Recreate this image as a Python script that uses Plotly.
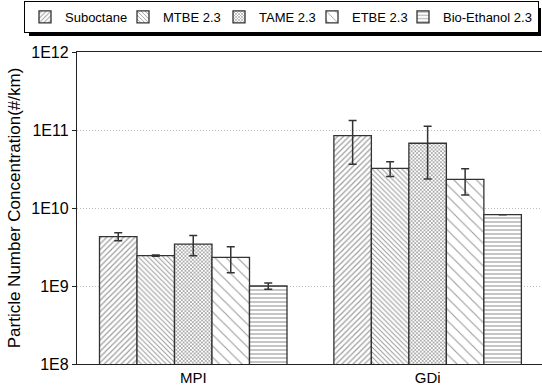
import plotly.graph_objects as go

# Engine types on the x axis
categories = ["MPI", "GDi"]

# Fuels and their particle number concentrations (#/km) per engine type
fuels = ["Suboctane", "MTBE 2.3", "TAME 2.3", "ETBE 2.3", "Bio-Ethanol 2.3"]
pn_mean = {
    "Suboctane":       [4.3e9, 8.45e10],
    "MTBE 2.3":        [2.45e9, 3.23e10],
    "TAME 2.3":        [3.45e9, 6.76e10],
    "ETBE 2.3":        [2.33e9, 2.33e10],
    "Bio-Ethanol 2.3": [1.0e9, 8.2e9],
}
pn_err = {
    "Suboctane":       [0.5e9, 4.8e10],
    "MTBE 2.3":        [0.05e9, 0.7e10],
    "TAME 2.3":        [1.0e9, 4.4e10],
    "ETBE 2.3":        [0.85e9, 0.86e10],
    "Bio-Ethanol 2.3": [0.09e9, None],
}

# Y axis decades and their labels
y_tickvals = [1e8, 1e9, 1e10, 1e11, 1e12]
y_ticktext = ["1E8", "1E9", "1E10", "1E11", "1E12"]

# Hatch style per fuel
hatch = {
    "Suboctane":       dict(shape="/", size=4, solidity=0.3),
    "MTBE 2.3":        dict(shape="\\", size=3.5, solidity=0.3),
    "TAME 2.3":        dict(shape="x", size=2.6, solidity=0.5),
    "ETBE 2.3":        dict(shape="\\", size=8, solidity=0.14),
    "Bio-Ethanol 2.3": dict(shape="-", size=4, solidity=0.3),
}
# Legend entry widths (px) per fuel
legend_w = {
    "Suboctane": 53, "MTBE 2.3": 51, "TAME 2.3": 48,
    "ETBE 2.3": 46, "Bio-Ethanol 2.3": 90,
}

FONT = "Liberation Sans, Arial, sans-serif"
W, H = 542, 385
ML, MR, MT, MB = 77, 0, 52, 21

fig = go.Figure()
for f in fuels:
    fig.add_trace(go.Bar(
        name=f,
        x=categories,
        y=pn_mean[f],
        legendwidth=legend_w[f],
        marker=dict(
            color="white",
            line=dict(color="#333333", width=1.3),
            pattern=dict(fgcolor="#3a3a3a", bgcolor="white", fillmode="overlay", **hatch[f]),
        ),
        error_y=dict(type="data", array=pn_err[f], visible=True,
                     color="#333333", thickness=1.5, width=4),
    ))

# Pixel -> paper conversion for items placed in the top margin
pw = W - ML - MR
ph = H - MT - MB
def px_to_paper_x(px):
    return (px - ML) / pw
def px_to_paper_y(py):
    return (H - MB - py) / ph

# Drop shadow behind the framed legend
fig.add_shape(type="rect", xref="paper", yref="paper",
              x0=px_to_paper_x(29), x1=px_to_paper_x(541),
              y0=px_to_paper_y(36), y1=px_to_paper_y(8),
              fillcolor="black", line=dict(width=0), layer="above")

fig.update_layout(
    width=W, height=H,
    margin=dict(l=ML, r=MR, t=MT, b=MB, pad=0),
    paper_bgcolor="white", plot_bgcolor="white",
    barmode="group", bargap=0.2, bargroupgap=0,
    font=dict(family=FONT, size=15, color="black"),
    showlegend=True,
    legend=dict(
        orientation="h", x=px_to_paper_x(24), y=px_to_paper_y(1),
        xanchor="left", yanchor="top",
        bgcolor="white", bordercolor="black", borderwidth=1,
        font=dict(family=FONT, size=13, color="black"),
        itemwidth=30, tracegroupgap=0,
    ),
    xaxis=dict(
        range=[-0.496, 1.488],
        showline=True, linecolor="#222222", linewidth=1.3, mirror=True,
        ticks="", showgrid=False,
        tickfont=dict(family=FONT, size=15),
    ),
    yaxis=dict(
        type="log", range=[8, 12],
        tickvals=y_tickvals, ticktext=y_ticktext,
        ticks="outside", ticklen=4, tickwidth=1.3, tickcolor="#222222",
        showline=True, linecolor="#222222", linewidth=1.3, mirror=True,
        showgrid=True, gridcolor="#bdbdbd", griddash="1px,2px", gridwidth=1,
        tickfont=dict(family=FONT, size=16),
        title=dict(text="Particle Number Concentration(#/km)",
                   font=dict(family=FONT, size=17), standoff=6),
        zeroline=False,
    ),
    yaxis2=dict(
        type="log", range=[8, 12], overlaying="y", side="right",
        tickvals=y_tickvals, showticklabels=False,
        ticks="inside", ticklen=4, tickwidth=1.3, tickcolor="#222222",
        showgrid=False, showline=False, zeroline=False,
    ),
)

fig.write_html("out.html")
